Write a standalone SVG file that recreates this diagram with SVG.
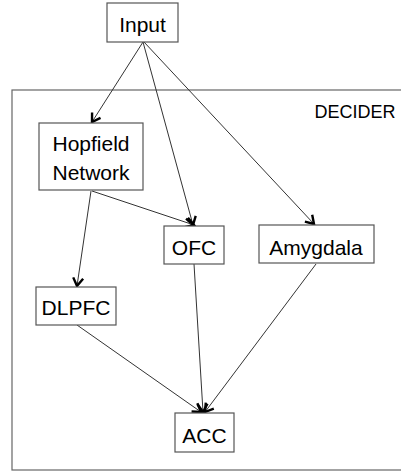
<svg xmlns="http://www.w3.org/2000/svg" width="401" height="471" viewBox="0 0 401 471">
<style>
.box{fill:#fff;stroke:#555;stroke-width:1.2}
.t{font-family:"Liberation Sans",Arial,sans-serif;font-size:21px;fill:#000;text-anchor:middle}
.e{stroke:#333;stroke-width:1;fill:none;marker-end:url(#arr)}
</style>
<defs>
<marker id="arr" markerUnits="userSpaceOnUse" markerWidth="14" markerHeight="14" refX="10" refY="6" orient="auto" viewBox="0 0 14 12">
<path d="M2,1 L10,6 L2,11" fill="none" stroke="#000" stroke-width="2.4" stroke-linejoin="miter"/>
</marker>
</defs>
<g id="decider">
<rect x="12" y="90" width="400" height="380" fill="none" stroke="#666" stroke-width="1.2"/>
<text class="t" x="355" y="118" style="font-size:18px">DECIDER</text>
</g>
<g id="connectors">
<line class="e" x1="143" y1="42" x2="92" y2="122"/>
<line class="e" x1="143" y1="42" x2="193" y2="225"/>
<line class="e" x1="144" y1="42" x2="314" y2="224"/>
<line class="e" x1="91" y1="191" x2="77" y2="286"/>
<line class="e" x1="92" y1="191" x2="194" y2="225"/>
<line class="e" x1="194" y1="264" x2="203" y2="412"/>
<line class="e" x1="316" y1="264" x2="205" y2="412"/>
<line class="e" x1="77" y1="325" x2="201" y2="412"/>
</g>
<g id="input">
<rect class="box" x="107" y="3" width="71" height="39"/>
<text class="t" x="142.5" y="32">Input</text>
</g>
<g id="hopfield">
<rect class="box" x="39" y="123" width="104" height="67"/>
<text class="t" x="91" y="151">Hopfield</text>
<text class="t" x="91" y="180">Network</text>
</g>
<g id="ofc">
<rect class="box" x="164" y="226" width="60" height="38"/>
<text class="t" x="194" y="255">OFC</text>
</g>
<g id="amygdala">
<rect class="box" x="259" y="225" width="115" height="38"/>
<text class="t" x="316" y="255">Amygdala</text>
</g>
<g id="dlpfc">
<rect class="box" x="36" y="287" width="80" height="38"/>
<text class="t" x="76" y="315">DLPFC</text>
</g>
<g id="acc">
<rect class="box" x="175" y="413" width="59" height="39"/>
<text class="t" x="204.5" y="443">ACC</text>
</g>
</svg>
